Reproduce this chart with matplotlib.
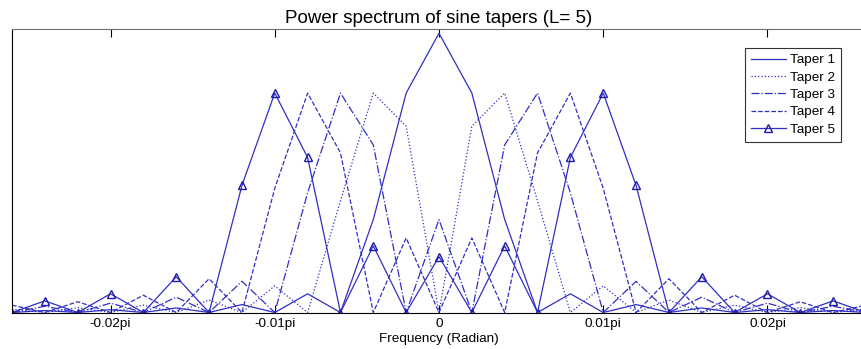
import numpy as np
import matplotlib.pyplot as plt

plt.rcParams['font.family'] = ['Liberation Sans', 'DejaVu Sans']

# frequency bins, step 0.002pi
bins = list(range(-13, 14))

# magnitude, bins 0 .. 13 (spectrum is symmetric about 0)
taper1_half = [0.985, 0.774, 0.328, 0.0, 0.066, 0.0, 0.028, 0.0, 0.016, 0.0, 0.010, 0.0, 0.007, 0.0]
taper2_half = [0.0, 0.657, 0.774, 0.394, 0.0, 0.094, 0.0, 0.044, 0.0, 0.026, 0.0, 0.017, 0.0, 0.012]
taper3_half = [0.328, 0.0, 0.591, 0.774, 0.422, 0.0, 0.110, 0.0, 0.054, 0.0, 0.033, 0.0, 0.022, 0.0]
taper4_half = [0.0, 0.263, 0.0, 0.563, 0.774, 0.438, 0.0, 0.119, 0.0, 0.061, 0.0, 0.038, 0.0, 0.026]
taper5_half = [0.197, 0.0, 0.235, 0.0, 0.547, 0.774, 0.448, 0.0, 0.126, 0.0, 0.066, 0.0, 0.041, 0.0]

labels = ['Taper 1', 'Taper 2', 'Taper 3', 'Taper 4', 'Taper 5']
tick_pos = [-0.02, -0.01, 0, 0.01, 0.02]
tick_lab = ['-0.02pi', '-0.01pi', '0', '0.01pi', '0.02pi']


def full(half):
    # mirror the half spectrum to get bins -13..13
    return half[:0:-1] + half


x = np.array(bins) * 0.002

W, H = 862, 349
fig = plt.figure(figsize=(W / 100, H / 100), dpi=100)
ax = fig.add_axes([12 / W, (H - 312.5) / H, 854 / W, 283.5 / H])

col = '#2f2fc4'
ax.plot(x, full(taper1_half), '-', color=col, lw=0.9, label=labels[0])
ax.plot(x, full(taper2_half), ':', color=col, lw=0.9, label=labels[1])
ax.plot(x, full(taper3_half), '-.', color=col, lw=0.9, label=labels[2])
ax.plot(x, full(taper4_half), '--', color=col, lw=0.9, label=labels[3])
ax.plot(x, full(taper5_half), '-', color=col, lw=0.9, marker='^',
        markersize=5.5, markerfacecolor='none', markeredgecolor='#1c1caa',
        label=labels[4])

ax.set_xlim(-0.026, 0.026)
ax.set_ylim(0, 1)
ax.set_xticks(tick_pos)
ax.set_xticklabels(tick_lab, fontsize=9.7)
ax.set_yticks([])
ax.tick_params(axis='x', direction='in', top=True, length=5.5, width=0.8, pad=4)
for s in ax.spines.values():
    s.set_linewidth(0.8)
ax.spines['top'].set_color('#707070')

ax.set_title('Power spectrum of sine tapers (L= 5)', fontsize=13.5, pad=4)
ax.set_xlabel('Frequency (Radian)', fontsize=9.7, labelpad=2)

leg = ax.legend(loc='upper right', bbox_to_anchor=(841 / W, 1 - 48 / H),
                bbox_transform=fig.transFigure, borderaxespad=0,
                fancybox=False, edgecolor='#333333', framealpha=1,
                fontsize=9.7, handlelength=2.6, handletextpad=0.3,
                labelspacing=0.36, borderpad=0.45)
leg.get_frame().set_linewidth(0.8)

fig.savefig('out.png', dpi=100)
